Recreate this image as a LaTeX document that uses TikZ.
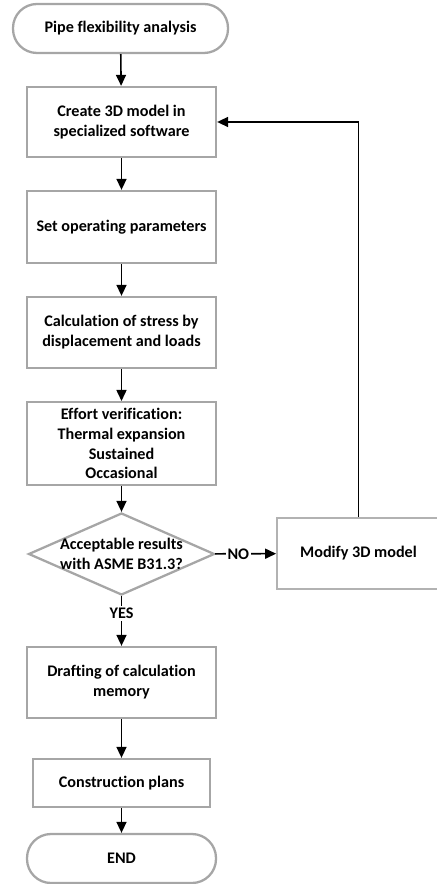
\documentclass[tikz,border=0pt]{standalone}
\usepackage{fontspec}
\setmainfont{Carlito}[Ligatures=NoCommon]
\usetikzlibrary{arrows.meta}
\usetikzlibrary{shapes.geometric}

\tikzset{
    flowbox/.style={draw=gray!70, line width=1.3pt, fill=white, minimum width=3.78cm, align=center, font=\fontsize{9.2}{11.3}\selectfont\bfseries},
    term/.style={flowbox, rounded corners=4.8mm},
    decide/.style={draw=gray!70, line width=1.3pt, diamond, aspect=2.27, minimum width=3.72cm, minimum height=1.64cm, inner sep=0pt},
    flowtext/.style={align=center, font=\fontsize{9.2}{11.3}\selectfont\bfseries},
    link/.style={-{Triangle[length=2.2mm, width=2mm]}, line width=0.9pt},
}

\begin{document}
\begin{tikzpicture}
    \useasboundingbox (0,0) rectangle (8.72,-17.68);
    \node [term, minimum width=4.3cm, minimum height=0.98cm] (start) at (2.41,-0.57) {Pipe flexibility analysis};
    \node [flowbox, minimum height=1.40cm] (model) at (2.43,-2.44) {Create 3D model in\\specialized software};
    \node [flowbox, minimum height=1.44cm] (param) at (2.43,-4.54) {Set operating parameters};
    \node [flowbox, minimum height=1.42cm] (stress) at (2.43,-6.65) {Calculation of stress by\\displacement and loads};
    \node [flowbox, minimum height=1.62cm] (effort) at (2.43,-8.87) {Effort verification:\\Thermal expansion\\Sustained\\Occasional};
    \node [decide] (check) at (2.43,-11.08) {};
    \node [flowtext] at (check) {Acceptable results\\with ASME B31.3?};
    \node [flowbox, draw=gray!60, line width=1pt, minimum width=3.26cm, minimum height=1.42cm] (modify) at (7.17,-11.07) {Modify 3D model};
    \node [flowbox, minimum height=1.42cm] (memory) at (2.43,-13.65) {Drafting of calculation\\memory};
    \node [flowbox, minimum width=3.54cm, minimum height=0.96cm] (plans) at (2.43,-15.66) {Construction plans};
    \node [term, minimum height=0.98cm] (finish) at (2.43,-17.17) {END};

    \draw [link] (start) -- (model);
    \draw [link] (model) -- (param);
    \draw [link] (param) -- (stress);
    \draw [link] (stress) -- (effort);
    \draw [link] (effort) -- (check);
    \draw [link] (check) -- node [flowtext, fill=white, inner sep=1pt, pos=0.38] {NO} (modify);
    \draw [link] (check) -- node [flowtext, fill=white, inner sep=1pt, pos=0.35] {YES} (memory);
    \draw [link] (memory) -- (plans);
    \draw [link] (plans) -- (finish);
    \draw [link] (modify.north) |- (model.east);
\end{tikzpicture}
\end{document}
